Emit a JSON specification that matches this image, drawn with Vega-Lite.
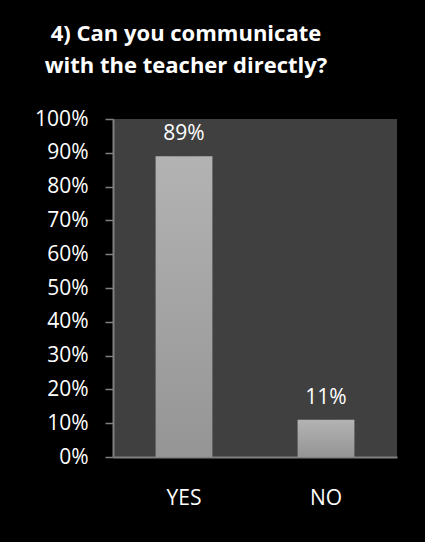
{
  "$schema": "https://vega.github.io/schema/vega-lite/v6.json",
  "width": 284,
  "height": 338,
  "autosize": {"type": "none"},
  "padding": {"left": 113, "top": 119, "right": 28, "bottom": 85},
  "background": "#000000",
  "view": {"fill": "#404040", "stroke": null},
  "title": {
    "text": ["4) Can you communicate", "with the teacher directly?"],
    "font": "Open Sans",
    "fontWeight": "bold",
    "fontSize": 22,
    "color": "#ffffff",
    "lineHeight": 32,
    "anchor": "middle",
    "dx": -69,
    "offset": 30
  },
  "data": {
    "values": [
      {"answer": "YES", "share": 0.89},
      {"answer": "NO", "share": 0.11}
    ]
  },
  "encoding": {
    "x": {
      "field": "answer",
      "type": "nominal",
      "sort": ["YES", "NO"],
      "scale": {"paddingInner": 0.6, "paddingOuter": 0.3},
      "axis": {
        "title": null,
        "labelAngle": 0,
        "labelFont": "Open Sans",
        "labelFontSize": 21,
        "labelColor": "#ffffff",
        "labelPadding": 30,
        "ticks": false,
        "domainColor": "#808080",
        "domainWidth": 2
      }
    },
    "y": {
      "field": "share",
      "type": "quantitative",
      "scale": {"domain": [0, 1]},
      "axis": {
        "title": null,
        "format": ".0%",
        "values": [0, 0.1, 0.2, 0.3, 0.4, 0.5, 0.6, 0.7, 0.8, 0.9, 1],
        "grid": false,
        "labelFont": "Open Sans",
        "labelFontSize": 21,
        "labelColor": "#ffffff",
        "labelPadding": 17,
        "tickSize": 8,
        "tickColor": "#808080",
        "tickWidth": 1.5,
        "domainColor": "#808080",
        "domainWidth": 2
      }
    }
  },
  "layer": [
    {
      "mark": {"type": "bar", "color": "#000000", "opacity": 0.08, "width": {"band": 0.48}, "xOffset": 2}
    },
    {
      "mark": {"type": "bar", "color": "#000000", "opacity": 0.12, "width": {"band": 0.44}, "xOffset": 2}
    },
    {
      "mark": {
        "type": "bar",
        "color": {
          "gradient": "linear",
          "x1": 0, "y1": 0, "x2": 0, "y2": 1,
          "stops": [
            {"offset": 0, "color": "#b3b3b3"},
            {"offset": 1, "color": "#959595"}
          ]
        }
      }
    },
    {
      "mark": {
        "type": "text",
        "baseline": "bottom",
        "dy": -12,
        "font": "Open Sans",
        "fontSize": 21,
        "color": "#ffffff"
      },
      "encoding": {
        "text": {"field": "share", "type": "quantitative", "format": ".0%"}
      }
    }
  ]
}
